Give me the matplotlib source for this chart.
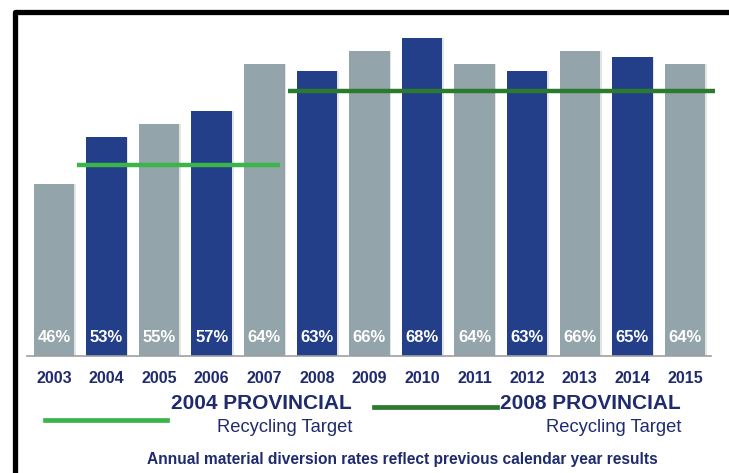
import matplotlib
matplotlib.use("Agg")
import matplotlib.pyplot as plt
from matplotlib.lines import Line2D

# data
years = ["2003", "2004", "2005", "2006", "2007", "2008", "2009",
         "2010", "2011", "2012", "2013", "2014", "2015"]
rates = [46, 53, 55, 57, 64, 63, 66, 68, 64, 63, 66, 65, 64]
target_2004 = 48.8
target_2008 = 60

GRAY = "#93a5aa"
NAVY = "#243f89"
TEXT = "#1f2b6e"
LIGHT_GREEN = "#3bb54a"
DARK_GREEN = "#2a7a2f"

plt.rcParams['font.family'] = ['Liberation Sans', 'DejaVu Sans']

W, H = 729, 473
fig = plt.figure(figsize=(W / 100, H / 100), dpi=100)
ax = fig.add_axes([27 / W, (H - 356) / H, (716 - 27) / W, (356 - 15) / H])

x = list(range(len(years)))
colors = [GRAY if i % 2 == 0 else NAVY for i in x]

# faint shadow behind the bars
ax.bar([i + 0.03 for i in x], rates, width=0.77, color="#e4e4e4", zorder=1)
ax.bar(x, rates, width=0.77, color=colors, zorder=2)

for i, r in zip(x, rates):
    ax.text(i, 22.8, f"{r}%", ha="center", va="center", color="white",
            fontsize=12, fontweight="bold", zorder=4)

# target lines
ax.plot([0.43, 4.30], [target_2004, target_2004], color=LIGHT_GREEN, lw=3.2,
        solid_capstyle="butt", zorder=3)
ax.plot([4.45, 12.57], [target_2008, target_2008], color=DARK_GREEN, lw=3.2,
        solid_capstyle="butt", zorder=3)

ax.set_xlim(-0.513, 12.59)
ax.set_ylim(20, 71.4)
for s in ["top", "left", "right"]:
    ax.spines[s].set_visible(False)
ax.spines["bottom"].set_color("#a0a0a0")
ax.spines["bottom"].set_linewidth(1.2)
ax.spines["bottom"].set_bounds(-0.513, 12.5)
ax.set_yticks([])
ax.set_xticks(x)
ax.set_xticklabels(years, fontsize=11.5, fontweight="bold", color=TEXT)
ax.tick_params(axis="x", length=0, pad=11)

# legend-like annotations below the chart
def fx(px):
    return px / W

def fy(py):
    return 1 - py / H

fig.add_artist(Line2D([fx(45), fx(167)], [fy(420), fy(420)], color=LIGHT_GREEN, lw=3.4))
fig.add_artist(Line2D([fx(374), fx(497)], [fy(406.5), fy(406.5)], color=DARK_GREEN, lw=3.4))

fig.text(fx(352), fy(403), "2004 PROVINCIAL", ha="right", va="center",
         fontsize=15, fontweight="bold", color=TEXT)
fig.text(fx(352), fy(427), "Recycling Target", ha="right", va="center",
         fontsize=13.2, color=TEXT)
fig.text(fx(681), fy(403), "2008 PROVINCIAL", ha="right", va="center",
         fontsize=15, fontweight="bold", color=TEXT)
fig.text(fx(681), fy(427), "Recycling Target", ha="right", va="center",
         fontsize=13.2, color=TEXT)
fig.text(fx(402), fy(459), "Annual material diversion rates reflect previous calendar year results",
         ha="center", va="center", fontsize=11.2, fontweight="bold", color=TEXT)

# black frame on left and top
fig.add_artist(Line2D([fx(14.8), fx(14.8), fx(729)], [fy(473), fy(12.2), fy(12.2)],
                      color="black", lw=3.8, solid_joinstyle="round"))

fig.savefig("out.png", dpi=100)
